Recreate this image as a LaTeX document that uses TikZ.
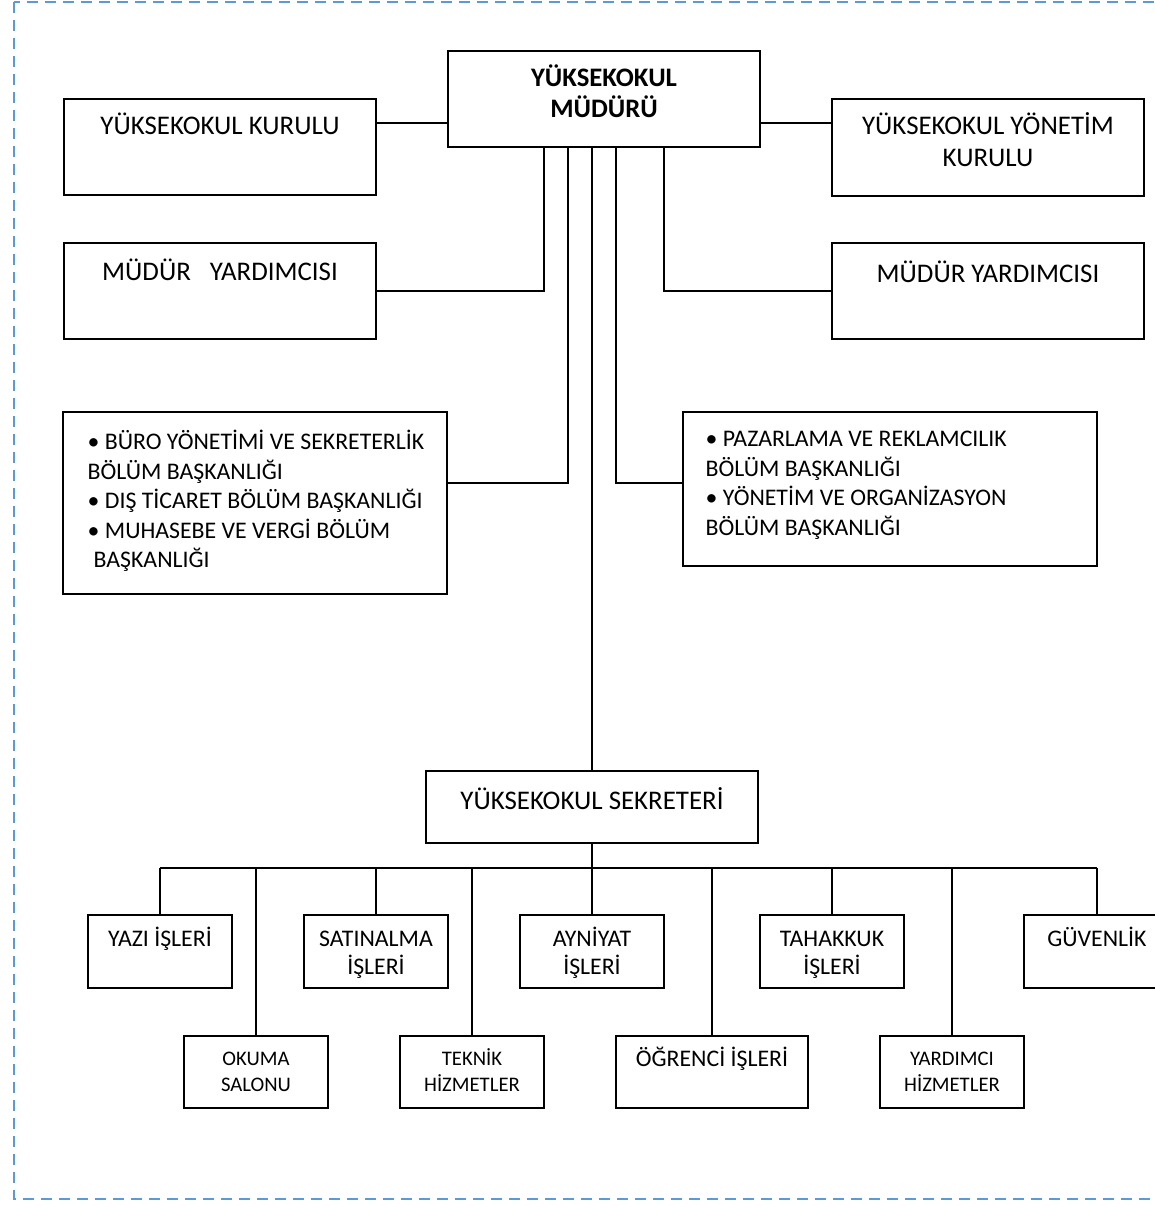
\documentclass[tikz,border=0pt]{standalone}
\usepackage{fontspec}
\setmainfont{Carlito}
\begin{document}
\begin{tikzpicture}[x=1pt,y=-1pt,
        box/.style={draw,line width=1.7pt,inner sep=0pt},
        link/.style={line width=1.7pt},
        frame/.style={draw=blue5,line width=2.6pt,dash pattern=on 11pt off 7pt},
        big/.style={font=\fontsize{26.9}{32}\selectfont,align=center,anchor=base},
        head/.style={font=\fontsize{26.7}{31}\selectfont\bfseries,align=center,anchor=base},
        mid/.style={font=\fontsize{23.8}{28}\selectfont,align=center,anchor=base},
        small/.style={font=\fontsize{20.7}{26}\selectfont,align=center,anchor=base},
        list/.style={font=\fontsize{23.8}{29.5}\selectfont,align=left,anchor=base west,xshift=22}]
    \definecolor{blue5}{RGB}{91,155,213}
    \useasboundingbox (0,0) rectangle (1154,1207);
    \draw[frame] (14,2) rectangle (1178,1199);
    \node[box,minimum width=312,minimum height=96,
        label={[head,yshift=-67.5]north:{YÜKSEKOKUL\\MÜDÜRÜ}}] (mudur) at (604,99) {};
    \node[box,minimum width=312,minimum height=96,
        label={[big,yshift=-36]north:YÜKSEKOKUL KURULU}] (kurul) at (220,147) {};
    \node[box,minimum width=312,minimum height=97,
        label={[big,yshift=-68]north:{YÜKSEKOKUL YÖNETİM\\KURULU}}] (ykurul) at (988,147.5) {};
    \node[box,minimum width=312,minimum height=96,
        label={[big,yshift=-38.5]north:{MÜDÜR\hspace{13pt} YARDIMCISI}}] (yardL) at (220,291) {};
    \node[box,minimum width=312,minimum height=96,
        label={[big,yshift=-40.5]north:MÜDÜR YARDIMCISI}] (yardR) at (988,291) {};
    \node[box,minimum width=384,minimum height=182,
        label={[list,yshift=-156.6]north west:{•\ BÜRO YÖNETİMİ VE SEKRETERLİK\\BÖLÜM BAŞKANLIĞI\\•\ DIŞ TİCARET BÖLÜM BAŞKANLIĞI\\•\ MUHASEBE VE VERGİ BÖLÜM\\\hspace{6pt}BAŞKANLIĞI}}] (bolumL) at (255,503) {};
    \node[box,minimum width=414,minimum height=154,
        label={[list,xshift=-2,yshift=-124.1]north west:{•\ PAZARLAMA VE REKLAMCILIK\\BÖLÜM BAŞKANLIĞI\\•\ YÖNETİM VE ORGANİZASYON\\BÖLÜM BAŞKANLIĞI}}] (bolumR) at (890,489) {};
    \node[box,minimum width=332,minimum height=72,
        label={[big,yshift=-39]north:YÜKSEKOKUL SEKRETERİ}] (sekreter) at (592,807) {};
    \node[box,minimum width=144,minimum height=73,
        label={[mid,yshift=-32.6]north:YAZI İŞLERİ}] (yazi) at (160,951.5) {};
    \node[box,minimum width=144,minimum height=73,
        label={[mid,yshift=-60.6]north:{SATINALMA\\İŞLERİ}}] (satin) at (376,951.5) {};
    \node[box,minimum width=144,minimum height=73,
        label={[mid,yshift=-60.6]north:{AYNİYAT\\İŞLERİ}}] (ayni) at (592,951.5) {};
    \node[box,minimum width=144,minimum height=73,
        label={[mid,yshift=-60.6]north:{TAHAKKUK\\İŞLERİ}}] (tahak) at (832,951.5) {};
    \node[box,minimum width=146,minimum height=73,
        label={[mid,yshift=-32.6]north:GÜVENLİK}] (guven) at (1097,951.5) {};
    \node[box,minimum width=144,minimum height=72,
        label={[small,yshift=-56.7]north:{OKUMA\\SALONU}}] (okuma) at (256,1072) {};
    \node[box,minimum width=144,minimum height=72,
        label={[small,yshift=-56.7]north:{TEKNİK\\HİZMETLER}}] (teknik) at (472,1072) {};
    \node[box,minimum width=192,minimum height=72,
        label={[mid,yshift=-31.5]north:ÖĞRENCİ İŞLERİ}] (ogrenci) at (712,1072) {};
    \node[box,minimum width=144,minimum height=72,
        label={[small,yshift=-56.7]north:{YARDIMCI\\HİZMETLER}}] (yardim) at (952,1072) {};
    \coordinate (top) at (0,123);
    \coordinate (mid) at (0,483);
    \coordinate (bus) at (592,868);
    \draw[link] (kurul.east |- top) -- (mudur.west |- top);
    \draw[link] (mudur.east |- top) -- (ykurul.west |- top);
    \draw[link] ([xshift=-60]mudur.south) |- (yardL.east);
    \draw[link] ([xshift=60]mudur.south) |- (yardR.west);
    \draw[link] ([xshift=-36]mudur.south) |- (bolumL.east |- mid);
    \draw[link] ([xshift=12]mudur.south) |- (bolumR.west |- mid);
    \draw[link] ([xshift=-12]mudur.south) -- (sekreter.north);
    \draw[link] (sekreter.south) -- (bus);
    \draw[link] (bus -| yazi.north) -- (bus -| guven.north);
    \foreach \b in {yazi,okuma,satin,teknik,ayni,ogrenci,tahak,yardim,guven}
        \draw[link] (bus -| \b.north) -- (\b.north);
\end{tikzpicture}
\end{document}
